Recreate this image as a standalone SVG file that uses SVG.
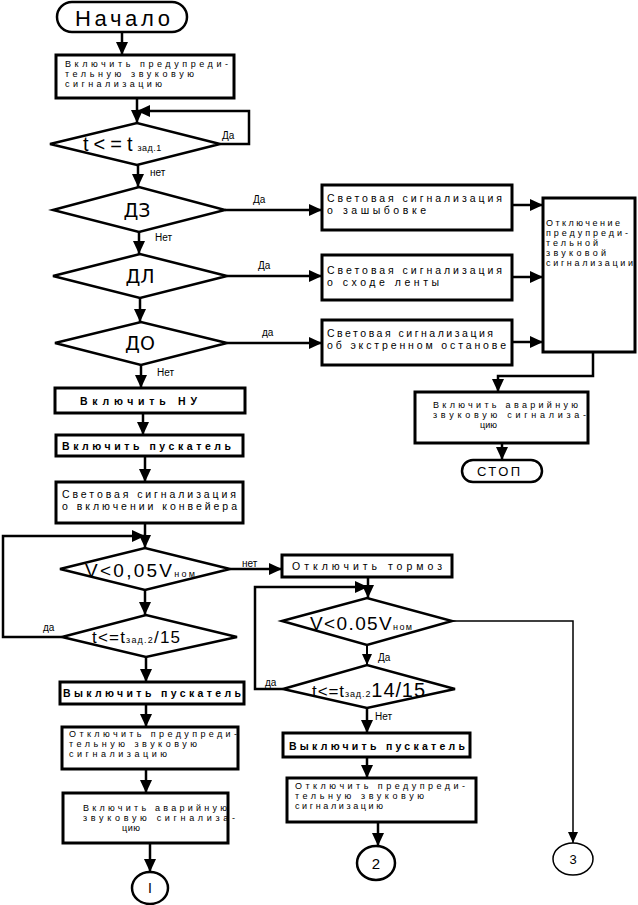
<svg xmlns="http://www.w3.org/2000/svg" width="638" height="905" viewBox="0 0 638 905">
<style>
.box{fill:#fff;stroke:#000;stroke-width:3}
.dia{fill:#fff;stroke:#000;stroke-width:2.5}
.term{fill:#fff;stroke:#000;stroke-width:2.5}
.ln{fill:none;stroke:#000;stroke-width:2.5;marker-end:url(#ah)}
.t{font-family:"Liberation Sans",Arial,sans-serif;font-size:10.5px;fill:#000}
.m{font-family:"Liberation Sans",Arial,sans-serif;font-size:9px;fill:#000}
.lb{font-family:"Liberation Sans",Arial,sans-serif;font-size:10px;fill:#000}
.big{font-family:"DejaVu Sans","Liberation Sans",sans-serif;font-size:19px;fill:#000}
.cond{font-family:"Liberation Sans",Arial,sans-serif;fill:#000}
</style>
<defs>
<marker id="ah" markerWidth="13" markerHeight="12" refX="13" refY="6" orient="auto" markerUnits="userSpaceOnUse"><path d="M0,0 L13,6 L0,12 z" fill="#000"/></marker>
<marker id="ahs" markerWidth="11" markerHeight="10" refX="11" refY="5" orient="auto" markerUnits="userSpaceOnUse"><path d="M0,0 L11,5 L0,10 z" fill="#000"/></marker>
</defs>

<g id="connectors">
<path class="ln" d="M122,32 V55"/>
<path class="ln" d="M137,98 V123"/>
<path class="ln" d="M220,144 H249 V111 H137"/>
<path class="ln" d="M138,165 V187"/>
<path class="ln" d="M225,210 H322"/>
<path class="ln" d="M139,232 V254"/>
<path class="ln" d="M227,276 H322"/>
<path class="ln" d="M140,298 V322"/>
<path class="ln" d="M227,343 H322"/>
<path class="ln" d="M141,365 V388"/>
<path class="ln" d="M512,205 H543"/>
<path class="ln" d="M512,277 H543"/>
<path class="ln" d="M512,342 H543"/>
<path class="ln" d="M593,352 V376 H498 V392"/>
<path class="ln" d="M502,443 V460"/>
<path class="ln" d="M143,413 V435"/>
<path class="ln" d="M145,456 V482"/>
<path class="ln" d="M145,523 V548"/>
<path class="ln" d="M62,637 H3 V536 H145"/>
<path class="ln" d="M230,569 H282"/>
<path class="ln" d="M145,590 V615"/>
<path class="ln" d="M146,657 V682"/>
<path class="ln" d="M146,704 V727"/>
<path class="ln" d="M146,769 V793"/>
<path class="ln" d="M150,843 V872"/>
<path class="ln" d="M368,577 V598"/>
<path class="ln" d="M283,689 H255 V587 H368"/>
<path fill="none" stroke="#000" stroke-width="1.5" marker-end="url(#ahs)" d="M452,621 H573 V843"/>
<path fill="none" stroke="#000" stroke-width="2" marker-end="url(#ahs)" d="M367,645 V665"/>
<path class="ln" d="M367,708 V733"/>
<path class="ln" d="M367,757 V778"/>
<path class="ln" d="M378,822 V846"/>
</g>

<g id="labels">
<text class="lb" x="222" y="139">Да</text>
<text class="lb" x="150" y="176">нет</text>
<text class="lb" x="253" y="203">Да</text>
<text class="lb" x="155" y="241">Нет</text>
<text class="lb" x="258" y="269">Да</text>
<text class="lb" x="262" y="336">да</text>
<text class="lb" x="157" y="376">Нет</text>
<text class="lb" x="242" y="567">нет</text>
<text class="lb" x="43" y="631">да</text>
<text class="lb" x="378" y="661">Да</text>
<text class="lb" x="265" y="686">да</text>
<text class="lb" x="375" y="720">Нет</text>
</g>

<g id="start">
<rect class="term" x="57" y="2" width="130" height="30" rx="15"/>
<text x="75" y="26" font-family="Liberation Sans, Arial, sans-serif" font-size="22" textLength="95" lengthAdjust="spacing">Начало</text>
</g>

<g id="box1">
<rect class="box" x="56" y="55" width="178" height="43"/>
<text class="m" x="65" y="67" textLength="163" lengthAdjust="spacing">Включить предупреди-</text>
<text class="m" x="65" y="77" textLength="129" lengthAdjust="spacing">тельную звуковую</text>
<text class="m" x="65" y="87" textLength="97" lengthAdjust="spacing">сигнализацию</text>
</g>

<g id="dec1">
<polygon class="dia" points="50,144 137,123 220,144 137,165"/>
<text class="cond" x="83" y="151" font-size="20"><tspan letter-spacing="5">t&lt;=t</tspan><tspan font-size="9" letter-spacing="0.5">зад.1</tspan></text>
</g>

<g id="decDZ">
<polygon class="dia" points="53,210 139,187 225,210 139,232"/>
<text class="big" x="137" y="217" text-anchor="middle">ДЗ</text>
</g>
<g id="decDL">
<polygon class="dia" points="53,276 140,254 227,276 140,298"/>
<text class="big" x="140" y="283" text-anchor="middle">ДЛ</text>
</g>
<g id="decDO">
<polygon class="dia" points="55,343 141,322 227,343 141,365"/>
<text class="big" x="140" y="350" text-anchor="middle">ДО</text>
</g>

<g id="boxA">
<rect class="box" x="322" y="185" width="190" height="45"/>
<text class="t" x="327" y="202" textLength="175" lengthAdjust="spacing">Световая сигнализация</text>
<text class="t" x="327" y="214" textLength="99" lengthAdjust="spacing">о зашыбовке</text>
</g>
<g id="boxB">
<rect class="box" x="322" y="255" width="190" height="45"/>
<text class="t" x="327" y="274" textLength="175" lengthAdjust="spacing">Световая сигнализация</text>
<text class="t" x="327" y="286" textLength="112" lengthAdjust="spacing">о сходе ленты</text>
</g>
<g id="boxC">
<rect class="box" x="322" y="320" width="190" height="45"/>
<text class="t" x="327" y="337" textLength="166" lengthAdjust="spacing">Световая сигнализация</text>
<text class="t" x="327" y="349" textLength="179" lengthAdjust="spacing">об экстренном останове</text>
</g>

<g id="boxOff">
<rect class="box" x="543" y="198" width="92" height="154"/>
<text class="m" x="546" y="226" textLength="74" lengthAdjust="spacing">Отключение</text>
<text class="m" x="546" y="236" textLength="82" lengthAdjust="spacing">предупреди-</text>
<text class="m" x="546" y="246" textLength="52" lengthAdjust="spacing">тельной</text>
<text class="m" x="546" y="256" textLength="60" lengthAdjust="spacing">звуковой</text>
<text class="m" x="546" y="266" textLength="87" lengthAdjust="spacing">сигнализации</text>
</g>

<g id="boxAlarmR">
<rect class="box" x="415" y="392" width="173" height="51"/>
<text class="m" x="433" y="408" textLength="145" lengthAdjust="spacing">Включить аварийную</text>
<text class="m" x="433" y="418" textLength="153" lengthAdjust="spacing">звуковую сигнализа-</text>
<text class="m" x="480" y="428" textLength="17" lengthAdjust="spacing">цию</text>
</g>

<g id="stop">
<rect class="term" x="462" y="460" width="80" height="22" rx="11"/>
<text x="477" y="476" font-family="Liberation Sans, Arial, sans-serif" font-size="13" textLength="43" lengthAdjust="spacing">СТОП</text>
</g>

<g id="boxNU">
<rect class="box" x="55" y="388" width="190" height="25"/>
<text class="t" x="80" y="405" font-size="12" font-weight="bold" textLength="117" lengthAdjust="spacing">Включить НУ</text>
</g>
<g id="boxStart">
<rect class="box" x="56" y="435" width="187" height="21"/>
<text class="t" x="62" y="450" font-size="12" font-weight="bold" textLength="169" lengthAdjust="spacing">Включить пускатель</text>
</g>
<g id="boxConv">
<rect class="box" x="56" y="482" width="187" height="41"/>
<text class="t" x="62" y="498" textLength="174" lengthAdjust="spacing">Световая сигнализация</text>
<text class="t" x="62" y="510" textLength="175" lengthAdjust="spacing">о включении конвейера</text>
</g>

<g id="decV1">
<polygon class="dia" points="60,569 145,548 230,569 145,590"/>
<text class="cond" x="85" y="577" font-size="19" textLength="110" lengthAdjust="spacing">V&lt;0,05V<tspan font-size="9">ном</tspan></text>
</g>
<g id="decT1">
<polygon class="dia" points="62,637 146,615 237,637 146,657"/>
<text class="cond" x="92" y="643" font-size="17" textLength="88" lengthAdjust="spacing">t&lt;=t<tspan font-size="9">зад.2</tspan>/15</text>
</g>

<g id="boxStopL">
<rect class="box" x="60" y="682" width="184" height="22"/>
<text class="t" x="63" y="697" font-size="12" font-weight="bold" textLength="178" lengthAdjust="spacing">Выключить пускатель</text>
</g>
<g id="boxWarnOffL">
<rect class="box" x="62" y="727" width="176" height="42"/>
<text class="m" x="69" y="737" textLength="168" lengthAdjust="spacing">Отключить предупреди-</text>
<text class="m" x="69" y="747" textLength="128" lengthAdjust="spacing">тельную звуковую</text>
<text class="m" x="69" y="757" textLength="98" lengthAdjust="spacing">сигнализацию</text>
</g>
<g id="boxAlarmL">
<rect class="box" x="63" y="793" width="165" height="50"/>
<text class="m" x="83" y="811" textLength="144" lengthAdjust="spacing">Включить аварийную</text>
<text class="m" x="83" y="821" textLength="152" lengthAdjust="spacing">звуковую сигнализа-</text>
<text class="m" x="122" y="831" textLength="18" lengthAdjust="spacing">цию</text>
</g>
<g id="conn1">
<ellipse class="term" cx="150" cy="888" rx="18" ry="16"/>
<text x="150" y="893" font-family="Liberation Sans, Arial, sans-serif" font-size="14" text-anchor="middle">I</text>
</g>

<g id="boxBrake">
<rect class="box" x="282" y="555" width="170" height="22"/>
<text class="t" x="292" y="570" textLength="150" lengthAdjust="spacing">Отключить тормоз</text>
</g>
<g id="decV2">
<polygon class="dia" points="282,621 367,598 452,621 367,645"/>
<text class="cond" x="310" y="630" font-size="19" textLength="102" lengthAdjust="spacing">V&lt;0.05V<tspan font-size="9">ном</tspan></text>
</g>
<g id="decT2">
<polygon class="dia" points="283,689 367,665 455,689 367,708"/>
<text class="cond" x="312" y="697" font-size="17" textLength="113" lengthAdjust="spacing">t&lt;=t<tspan font-size="9">зад.2</tspan><tspan font-size="20">14/15</tspan></text>
</g>
<g id="boxStopR">
<rect class="box" x="283" y="733" width="187" height="24"/>
<text class="t" x="289" y="750" font-size="12" font-weight="bold" textLength="176" lengthAdjust="spacing">Выключить пускатель</text>
</g>
<g id="boxWarnOffR">
<rect class="box" x="287" y="778" width="189" height="44"/>
<text class="m" x="295" y="789" textLength="170" lengthAdjust="spacing">Отключить предупреди-</text>
<text class="m" x="295" y="799" textLength="129" lengthAdjust="spacing">тельную звуковую</text>
<text class="m" x="295" y="809" textLength="88" lengthAdjust="spacing">сигнализацию</text>
</g>
<g id="conn2">
<ellipse class="term" cx="376" cy="863" rx="19" ry="17"/>
<text x="376" y="869" font-family="Liberation Sans, Arial, sans-serif" font-size="15" text-anchor="middle">2</text>
</g>
<g id="conn3">
<ellipse fill="#fff" stroke="#000" stroke-width="1.5" cx="573" cy="859" rx="20" ry="16"/>
<text x="573" y="864" font-family="Liberation Sans, Arial, sans-serif" font-size="13" text-anchor="middle">3</text>
</g>
</svg>
